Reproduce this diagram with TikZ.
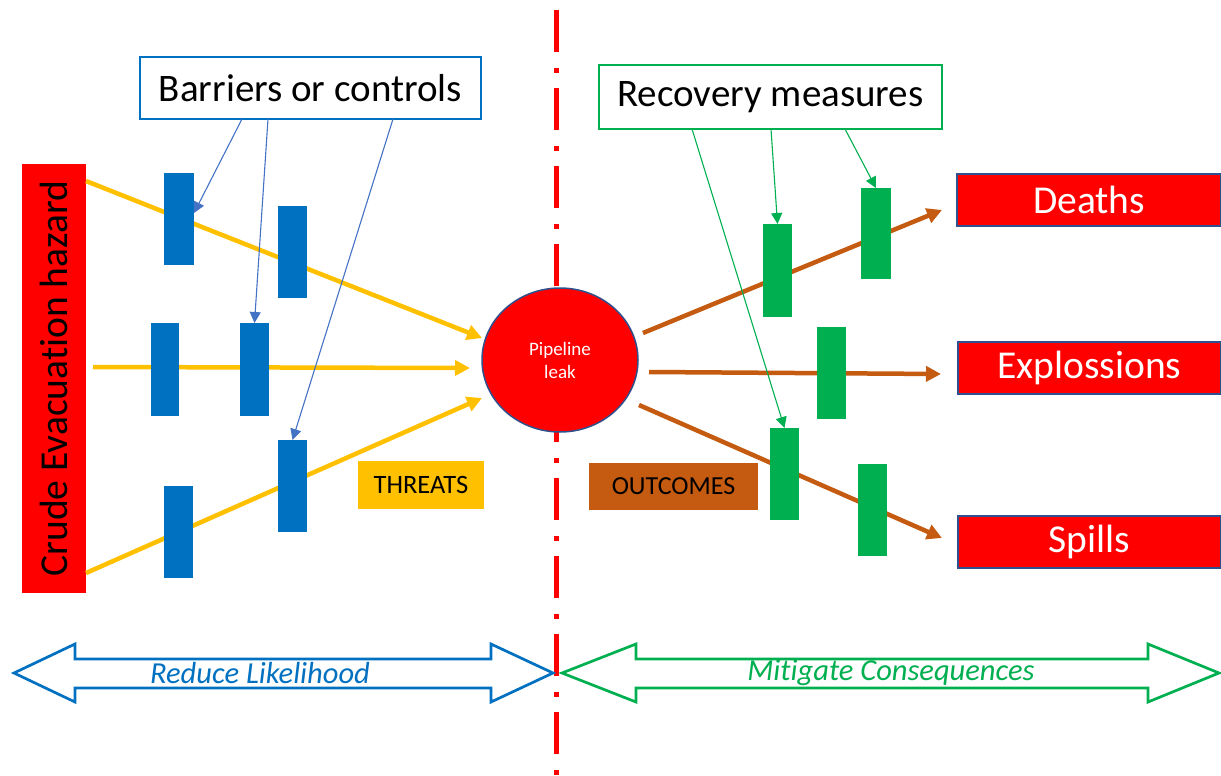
\documentclass[tikz,border=0pt]{standalone}
\usepackage{fontspec}
\setmainfont[Ligatures=NoCommon]{Carlito}
\usetikzlibrary{arrows.meta,shapes.geometric}

\definecolor{barblue}{HTML}{0070C0}
\definecolor{linkblue}{HTML}{4472C4}
\definecolor{mgreen}{HTML}{00B050}
\definecolor{threatyel}{HTML}{FFC000}
\definecolor{outbrown}{HTML}{C55A11}
\definecolor{edgeblue}{HTML}{2F528F}
\definecolor{hazred}{HTML}{FF0000}

\newcommand\fsz[1]{\fontsize{#1}{#1}\selectfont}

\begin{document}
\begin{tikzpicture}[x=1pt,y=-1pt,
  box/.style={anchor=north west,inner sep=0pt,outer sep=0pt},
  barrier/.style={box,fill=barblue,minimum width=29pt,minimum height=92pt},
  recovery/.style={box,fill=mgreen,minimum width=29pt,minimum height=92pt},
  outcome/.style={box,fill=hazred,draw=edgeblue,line width=1.5pt,
    minimum width=264pt,minimum height=52pt,text=white,font=\fsz{39.5}},
  threat/.style={threatyel,line width=4.5pt,-{Triangle[length=15pt,width=15pt]}},
  effect/.style={outbrown,line width=4.5pt,-{Triangle[length=15pt,width=15pt]}},
  bluelink/.style={linkblue,line width=1.1pt,-{Triangle[length=11pt,width=11pt]}},
  greenlink/.style={mgreen,line width=1.1pt,-{Triangle[length=11pt,width=11pt]}},
  span/.style={line width=2.7pt,fill=white,line join=miter}]
\useasboundingbox (0,0) rectangle (1221,776);

% divider between the threat side and the consequence side
\draw[hazred,line width=5pt,dash pattern=on 42pt off 16pt on 5pt off 15pt]
  (556.5,10) -- (556.5,776);

% hazard
\node[box,fill=hazred,minimum width=64pt,minimum height=429pt] (hz) at (22,164) {};
\node[rotate=90,font=\fsz{39.5}] at (hz.center) {Crude Evacuation hazard};

% top event
\node[ellipse,fill=hazred,draw=edgeblue,line width=1.5pt,minimum width=156pt,
  minimum height=144pt,inner sep=0pt,text=white,align=center,
  font=\fontsize{19}{23}\selectfont] (pl) at (560,360) {Pipeline\\leak};

% threat lines
\coordinate (tmid) at (93,367);
\coordinate (ptop) at (482,338);
\coordinate (pmid) at (470,368);
\coordinate (pbot) at (482,398);
\draw[threat] ([yshift=-17pt]hz.north east) -- (ptop);
\draw[threat] (tmid) -- (pmid);
\draw[threat] ([yshift=20pt]hz.south east) -- (pbot);

% consequence lines
\coordinate (otop) at (643,333);
\coordinate (omid) at (649,372);
\coordinate (obot) at (639,405);
\coordinate (dtip) at (942,210);
\coordinate (etip) at (941,374);
\coordinate (stip) at (942,538);
\draw[effect] (otop) -- (dtip);
\draw[effect] (omid) -- (etip);
\draw[effect] (obot) -- (stip);

% barriers
\node[barrier,minimum width=30pt] (b1) at (164,173) {};
\node[barrier] (b2) at (278,206) {};
\node[barrier,minimum width=28pt,minimum height=93pt] (b3) at (151,323) {};
\node[barrier,minimum height=93pt] (b4) at (240,323) {};
\node[barrier] (b5) at (278,440) {};
\node[barrier] (b6) at (164,486) {};

% recovery measures
\node[recovery,minimum height=93pt] (g1) at (763,224) {};
\node[recovery,minimum width=30pt,minimum height=91pt] (g2) at (861,188) {};
\node[recovery] (g3) at (817,327) {};
\node[recovery] (g4) at (770,428) {};
\node[recovery] (g5) at (858,464) {};

% outcomes
\node[outcome] (de) at (957,174) {Deaths};
\node[outcome,minimum width=263pt] (ex) at (958,342) {Explossions};
\node[outcome,minimum width=263pt] (sp) at (958,516) {Spills};

% labels
\node[box,fill=threatyel,minimum width=126pt,minimum height=48pt,font=\fsz{26.5}]
  (th) at (358,461) {THREATS};
\node[box,fill=outbrown,minimum width=169pt,minimum height=47pt,font=\fsz{26}]
  (oc) at (589,463) {OUTCOMES\hspace{12pt}};

% callouts
\node[box,fill=white,draw=barblue,line width=2pt,minimum width=341pt,
  minimum height=62pt,font=\fsz{39}] (bc) at (140,57) {Barriers or controls};
\node[box,fill=white,draw=mgreen,line width=1.8pt,minimum width=343pt,
  minimum height=64pt,font=\fsz{39}] (rm) at (599,65) {Recovery measures};

\draw[bluelink] ([xshift=102pt]bc.south west) -- ([yshift=6pt]b1.east);
\draw[bluelink] ([xshift=128pt]bc.south west) -- (b4.north);
\draw[bluelink] ([xshift=253pt]bc.south west) -- (b5.north);

\draw[greenlink] ([xshift=93pt]rm.south west) -- (g4.north);
\draw[greenlink] ([xshift=172pt]rm.south west) -- (g1.north);
\draw[greenlink] ([xshift=246pt]rm.south west) -- (g2.north);

% span arrows
\draw[span,draw=barblue] (14,673) -- (75,644) -- (75,659) -- (491,659) -- (491,644)
  -- (553,673) -- (491,702) -- (491,688) -- (75,688) -- (75,702) -- cycle;
\node[barblue,font=\itshape\fsz{30.5}] (rl) at (260,673) {Reduce Likelihood};

\draw[span,draw=mgreen] (562,673) -- (636,644) -- (636,659) -- (1148,659) -- (1148,644)
  -- (1219,673) -- (1148,702) -- (1148,688) -- (636,688) -- (636,702) -- cycle;
\node[mgreen,font=\itshape\fsz{30.5}] (mc) at (891,673) {Mitigate Consequences};
\end{tikzpicture}
\end{document}
